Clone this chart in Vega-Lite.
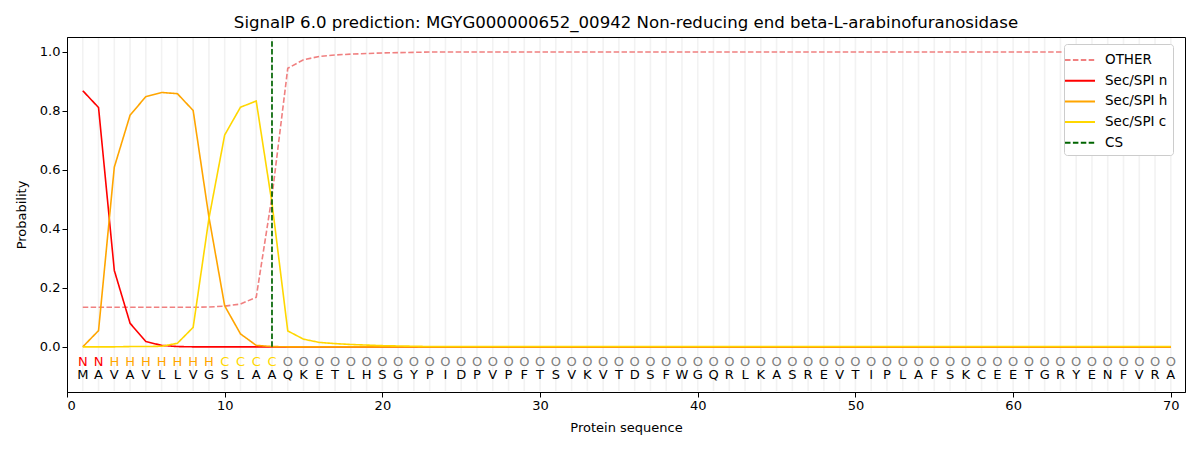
{
  "$schema": "https://vega.github.io/schema/vega-lite/v6.json",
  "width": 1118,
  "height": 355,
  "autosize": "none",
  "padding": {"left": 67, "top": 37, "right": 15, "bottom": 58},
  "title": {
    "text": "SignalP 6.0 prediction: MGYG000000652_00942 Non-reducing end beta-L-arabinofuranosidase",
    "font": "DejaVu Sans",
    "fontSize": 16.6,
    "fontWeight": "normal",
    "color": "black",
    "anchor": "middle",
    "offset": 5
  },
  "config": {
    "font": "DejaVu Sans",
    "view": {"stroke": "black", "strokeWidth": 1},
    "axis": {
      "labelFont": "DejaVu Sans",
      "titleFont": "DejaVu Sans",
      "labelFontSize": 13,
      "titleFontSize": 13,
      "titleFontWeight": "normal",
      "labelColor": "black",
      "titleColor": "black",
      "domainColor": "black",
      "tickColor": "black",
      "tickSize": 5,
      "grid": false
    },
    "legend": {
      "labelFont": "DejaVu Sans",
      "labelFontSize": 13.5,
      "labelColor": "black"
    }
  },
  "data": {
    "values": [
      {"pos": 1, "aa": "M", "lab": "N", "o": 0.134, "n": 0.868, "h": 0.0, "c": 0.0},
      {"pos": 2, "aa": "A", "lab": "N", "o": 0.134, "n": 0.811, "h": 0.055, "c": 0.0},
      {"pos": 3, "aa": "V", "lab": "H", "o": 0.134, "n": 0.259, "h": 0.609, "c": 0.0},
      {"pos": 4, "aa": "A", "lab": "H", "o": 0.134, "n": 0.08, "h": 0.785, "c": 0.001},
      {"pos": 5, "aa": "V", "lab": "H", "o": 0.134, "n": 0.018, "h": 0.848, "c": 0.001},
      {"pos": 6, "aa": "L", "lab": "H", "o": 0.134, "n": 0.005, "h": 0.862, "c": 0.002},
      {"pos": 7, "aa": "L", "lab": "H", "o": 0.134, "n": 0.001, "h": 0.858, "c": 0.012},
      {"pos": 8, "aa": "V", "lab": "H", "o": 0.134, "n": 0.0, "h": 0.801, "c": 0.066},
      {"pos": 9, "aa": "G", "lab": "H", "o": 0.135, "n": 0.0, "h": 0.44, "c": 0.435},
      {"pos": 10, "aa": "S", "lab": "C", "o": 0.138, "n": 0.0, "h": 0.139, "c": 0.718},
      {"pos": 11, "aa": "L", "lab": "C", "o": 0.145, "n": 0.0, "h": 0.044, "c": 0.812},
      {"pos": 12, "aa": "A", "lab": "C", "o": 0.168, "n": 0.0, "h": 0.005, "c": 0.833},
      {"pos": 13, "aa": "A", "lab": "C", "o": 0.51, "n": 0.0, "h": 0.001, "c": 0.487},
      {"pos": 14, "aa": "Q", "lab": "O", "o": 0.944, "n": 0.0, "h": 0.0, "c": 0.054},
      {"pos": 15, "aa": "K", "lab": "O", "o": 0.973, "n": 0.0, "h": 0.0, "c": 0.026},
      {"pos": 16, "aa": "E", "lab": "O", "o": 0.984, "n": 0.0, "h": 0.0, "c": 0.015},
      {"pos": 17, "aa": "T", "lab": "O", "o": 0.989, "n": 0.0, "h": 0.0, "c": 0.011},
      {"pos": 18, "aa": "L", "lab": "O", "o": 0.992, "n": 0.0, "h": 0.0, "c": 0.008},
      {"pos": 19, "aa": "H", "lab": "O", "o": 0.994, "n": 0.0, "h": 0.0, "c": 0.006},
      {"pos": 20, "aa": "S", "lab": "O", "o": 0.996, "n": 0.0, "h": 0.0, "c": 0.004},
      {"pos": 21, "aa": "G", "lab": "O", "o": 0.997, "n": 0.0, "h": 0.0, "c": 0.003},
      {"pos": 22, "aa": "Y", "lab": "O", "o": 0.998, "n": 0.0, "h": 0.0, "c": 0.002},
      {"pos": 23, "aa": "P", "lab": "O", "o": 0.999, "n": 0.0, "h": 0.0, "c": 0.001},
      {"pos": 24, "aa": "I", "lab": "O", "o": 0.999, "n": 0.0, "h": 0.0, "c": 0.001},
      {"pos": 25, "aa": "D", "lab": "O", "o": 0.999, "n": 0.0, "h": 0.0, "c": 0.001},
      {"pos": 26, "aa": "P", "lab": "O", "o": 0.999, "n": 0.0, "h": 0.0, "c": 0.001},
      {"pos": 27, "aa": "V", "lab": "O", "o": 0.999, "n": 0.0, "h": 0.0, "c": 0.001},
      {"pos": 28, "aa": "P", "lab": "O", "o": 0.999, "n": 0.0, "h": 0.0, "c": 0.001},
      {"pos": 29, "aa": "F", "lab": "O", "o": 0.999, "n": 0.0, "h": 0.0, "c": 0.001},
      {"pos": 30, "aa": "T", "lab": "O", "o": 0.999, "n": 0.0, "h": 0.0, "c": 0.001},
      {"pos": 31, "aa": "S", "lab": "O", "o": 0.999, "n": 0.0, "h": 0.0, "c": 0.001},
      {"pos": 32, "aa": "V", "lab": "O", "o": 0.999, "n": 0.0, "h": 0.0, "c": 0.001},
      {"pos": 33, "aa": "K", "lab": "O", "o": 0.999, "n": 0.0, "h": 0.0, "c": 0.001},
      {"pos": 34, "aa": "V", "lab": "O", "o": 0.999, "n": 0.0, "h": 0.0, "c": 0.001},
      {"pos": 35, "aa": "T", "lab": "O", "o": 0.999, "n": 0.0, "h": 0.0, "c": 0.001},
      {"pos": 36, "aa": "D", "lab": "O", "o": 0.999, "n": 0.0, "h": 0.0, "c": 0.001},
      {"pos": 37, "aa": "S", "lab": "O", "o": 0.999, "n": 0.0, "h": 0.0, "c": 0.001},
      {"pos": 38, "aa": "F", "lab": "O", "o": 0.999, "n": 0.0, "h": 0.0, "c": 0.001},
      {"pos": 39, "aa": "W", "lab": "O", "o": 0.999, "n": 0.0, "h": 0.0, "c": 0.001},
      {"pos": 40, "aa": "G", "lab": "O", "o": 0.999, "n": 0.0, "h": 0.0, "c": 0.001},
      {"pos": 41, "aa": "Q", "lab": "O", "o": 0.999, "n": 0.0, "h": 0.0, "c": 0.001},
      {"pos": 42, "aa": "R", "lab": "O", "o": 0.999, "n": 0.0, "h": 0.0, "c": 0.001},
      {"pos": 43, "aa": "L", "lab": "O", "o": 0.999, "n": 0.0, "h": 0.0, "c": 0.001},
      {"pos": 44, "aa": "K", "lab": "O", "o": 0.999, "n": 0.0, "h": 0.0, "c": 0.001},
      {"pos": 45, "aa": "A", "lab": "O", "o": 0.999, "n": 0.0, "h": 0.0, "c": 0.001},
      {"pos": 46, "aa": "S", "lab": "O", "o": 0.999, "n": 0.0, "h": 0.0, "c": 0.001},
      {"pos": 47, "aa": "R", "lab": "O", "o": 0.999, "n": 0.0, "h": 0.0, "c": 0.001},
      {"pos": 48, "aa": "E", "lab": "O", "o": 0.999, "n": 0.0, "h": 0.0, "c": 0.001},
      {"pos": 49, "aa": "V", "lab": "O", "o": 0.999, "n": 0.0, "h": 0.0, "c": 0.001},
      {"pos": 50, "aa": "T", "lab": "O", "o": 0.999, "n": 0.0, "h": 0.0, "c": 0.001},
      {"pos": 51, "aa": "I", "lab": "O", "o": 0.999, "n": 0.0, "h": 0.0, "c": 0.001},
      {"pos": 52, "aa": "P", "lab": "O", "o": 0.999, "n": 0.0, "h": 0.0, "c": 0.001},
      {"pos": 53, "aa": "L", "lab": "O", "o": 0.999, "n": 0.0, "h": 0.0, "c": 0.001},
      {"pos": 54, "aa": "A", "lab": "O", "o": 0.999, "n": 0.0, "h": 0.0, "c": 0.001},
      {"pos": 55, "aa": "F", "lab": "O", "o": 0.999, "n": 0.0, "h": 0.0, "c": 0.001},
      {"pos": 56, "aa": "S", "lab": "O", "o": 0.999, "n": 0.0, "h": 0.0, "c": 0.001},
      {"pos": 57, "aa": "K", "lab": "O", "o": 0.999, "n": 0.0, "h": 0.0, "c": 0.001},
      {"pos": 58, "aa": "C", "lab": "O", "o": 0.999, "n": 0.0, "h": 0.0, "c": 0.001},
      {"pos": 59, "aa": "E", "lab": "O", "o": 0.999, "n": 0.0, "h": 0.0, "c": 0.001},
      {"pos": 60, "aa": "E", "lab": "O", "o": 0.999, "n": 0.0, "h": 0.0, "c": 0.001},
      {"pos": 61, "aa": "T", "lab": "O", "o": 0.999, "n": 0.0, "h": 0.0, "c": 0.001},
      {"pos": 62, "aa": "G", "lab": "O", "o": 0.999, "n": 0.0, "h": 0.0, "c": 0.001},
      {"pos": 63, "aa": "R", "lab": "O", "o": 0.999, "n": 0.0, "h": 0.0, "c": 0.001},
      {"pos": 64, "aa": "Y", "lab": "O", "o": 0.999, "n": 0.0, "h": 0.0, "c": 0.001},
      {"pos": 65, "aa": "E", "lab": "O", "o": 0.999, "n": 0.0, "h": 0.0, "c": 0.001},
      {"pos": 66, "aa": "N", "lab": "O", "o": 0.999, "n": 0.0, "h": 0.0, "c": 0.001},
      {"pos": 67, "aa": "F", "lab": "O", "o": 0.999, "n": 0.0, "h": 0.0, "c": 0.001},
      {"pos": 68, "aa": "V", "lab": "O", "o": 0.999, "n": 0.0, "h": 0.0, "c": 0.001},
      {"pos": 69, "aa": "R", "lab": "O", "o": 0.999, "n": 0.0, "h": 0.0, "c": 0.001},
      {"pos": 70, "aa": "A", "lab": "O", "o": 0.999, "n": 0.0, "h": 0.0, "c": 0.001}
    ]
  },
  "encoding": {
    "x": {
      "field": "pos",
      "type": "quantitative",
      "scale": {"domain": [0, 70.9], "nice": false, "zero": false},
      "axis": {"values": [0, 10, 20, 30, 40, 50, 60, 70], "title": "Protein sequence", "labelPadding": 2, "titlePadding": 9}
    }
  },
  "layer": [
    {
      "mark": {"type": "rule", "color": "#f2f2f2", "strokeWidth": 1.6},
      "encoding": {
        "y": {"datum": -0.15},
        "y2": {"datum": 1.047}
      }
    },
    {
      "transform": [{"fold": ["o", "n", "h", "c"], "as": ["s", "p"]}],
      "mark": {"type": "line", "strokeWidth": 1.6},
      "encoding": {
        "y": {
          "field": "p",
          "type": "quantitative",
          "scale": {"domain": [-0.153, 1.05], "nice": false, "zero": false},
          "axis": {"values": [0, 0.2, 0.4, 0.6, 0.8, 1.0], "format": ".1f", "title": "Probability", "labelPadding": 2, "titlePadding": 11}
        },
        "color": {
          "field": "s",
          "type": "nominal",
          "scale": {
            "domain": ["o", "n", "h", "c", "CS"],
            "range": ["#f08080", "#ff0000", "#ffa500", "#ffd700", "#006400"]
          },
          "legend": {
            "title": null,
            "orient": "none",
            "legendX": 997,
            "legendY": 7,
            "symbolType": "M-1.5,0H1.5",
            "symbolSize": 400,
            "symbolStrokeWidth": 2,
            "labelExpr": "datum.value == 'o' ? 'OTHER' : datum.value == 'n' ? 'Sec/SPI n' : datum.value == 'h' ? 'Sec/SPI h' : datum.value == 'c' ? 'Sec/SPI c' : 'CS'",
            "fillColor": "white",
            "strokeColor": "#cccccc",
            "cornerRadius": 3,
            "padding": 5,
            "rowPadding": 2.7,
            "labelOffset": 14
          }
        },
        "strokeDash": {
          "field": "s",
          "type": "nominal",
          "scale": {
            "domain": ["o", "n", "h", "c", "CS"],
            "range": [[5.5, 2.4], [1, 0], [1, 0], [1, 0], [5.5, 2.4]]
          },
          "legend": {
            "title": null,
            "orient": "none",
            "legendX": 997,
            "legendY": 7,
            "symbolType": "M-1.5,0H1.5",
            "symbolSize": 400,
            "symbolStrokeWidth": 2,
            "labelExpr": "datum.value == 'o' ? 'OTHER' : datum.value == 'n' ? 'Sec/SPI n' : datum.value == 'h' ? 'Sec/SPI h' : datum.value == 'c' ? 'Sec/SPI c' : 'CS'",
            "fillColor": "white",
            "strokeColor": "#cccccc",
            "cornerRadius": 3,
            "padding": 5,
            "rowPadding": 2.7,
            "labelOffset": 14
          }
        }
      }
    },
    {
      "data": {"values": [{"pos": 13, "s": "CS"}]},
      "mark": {"type": "rule", "strokeWidth": 1.7},
      "encoding": {
        "y": {"datum": 0},
        "y2": {"datum": 1.037},
        "color": {"field": "s", "type": "nominal"},
        "strokeDash": {"field": "s", "type": "nominal"}
      }
    },
    {
      "mark": {"type": "text", "fontSize": 13, "baseline": "middle", "font": "DejaVu Sans"},
      "encoding": {
        "y": {"datum": -0.05},
        "text": {"field": "lab"},
        "color": {
          "condition": [
            {"test": "datum.lab == 'N'", "value": "#ff0000"},
            {"test": "datum.lab == 'H'", "value": "#ffa500"},
            {"test": "datum.lab == 'C'", "value": "#ffd700"}
          ],
          "value": "#808080"
        }
      }
    },
    {
      "mark": {"type": "text", "fontSize": 13, "baseline": "middle", "color": "black", "font": "DejaVu Sans"},
      "encoding": {
        "y": {"datum": -0.097},
        "text": {"field": "aa"}
      }
    }
  ]
}
